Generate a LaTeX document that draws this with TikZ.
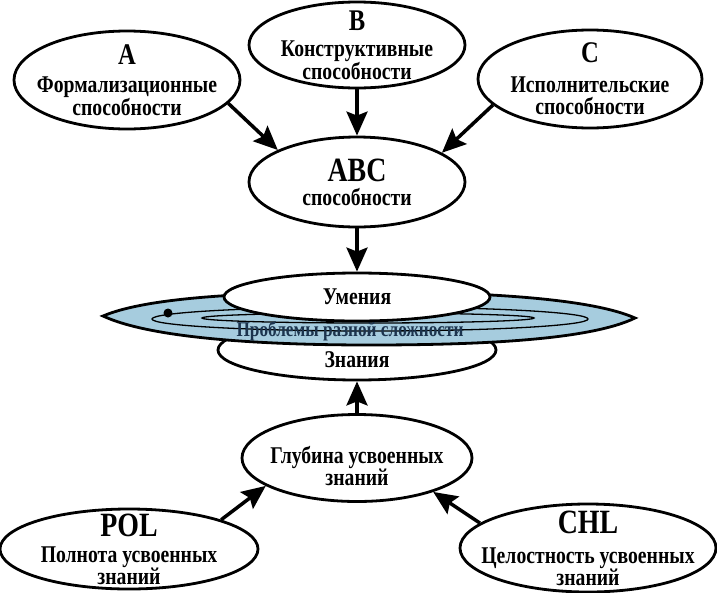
\documentclass[tikz,border=0pt]{standalone}
\usepackage{fontspec}
\setmainfont{Liberation Serif}[FakeStretch=0.82]
\usetikzlibrary{shapes.geometric,arrows.meta}
\definecolor{diskblue}{RGB}{166,204,222}
\definecolor{probtext}{RGB}{28,52,78}
\newcommand{\lettr}{\fontsize{30}{30}\selectfont}
\newcommand{\lettrbig}{\fontsize{34}{34}\selectfont}

\begin{document}
\begin{tikzpicture}[x=1pt,y=-1pt,
  font=\bfseries\fontsize{24}{22}\selectfont,
  oval/.style={ellipse,draw,line width=2.8pt,fill=white,inner sep=-40pt,align=center},
  arr/.style={line width=3.5pt,-{Stealth[length=24pt,width=21pt,inset=4pt]}}]
\useasboundingbox (0,0) rectangle (717,592);

\node (A) at (127,80) [oval,minimum width=226pt,minimum height=98pt] {{\lettr A}\\[6pt]Формализационные\\способности};
\node (B) at (357,45) [oval,minimum width=216pt,minimum height=86pt] {{\lettr B}\\[4pt]Конструктивные\\способности};
\node (C) at (590,79) [oval,minimum width=224pt,minimum height=98pt] {{\lettr C}\\[8pt]Исполнительские\\способности};
\node (ABC) at (357,182) [oval,minimum width=216pt,minimum height=90pt] {{\lettrbig ABC}\\[2pt]способности};

\node (Znania) at (357,350) [oval,minimum width=278pt,minimum height=60pt] {};
\draw[line width=2.8pt,fill=diskblue] (103,316) .. controls (150,296) and (260,292) .. (369,292)
  .. controls (480,292) and (590,298) .. (635,318)
  .. controls (590,340) and (480,345) .. (369,345)
  .. controls (260,345) and (150,338) .. (103,316) -- cycle;
\draw[line width=1.3pt] (370,319) ellipse [x radius=218, y radius=12];
\draw[line width=1.3pt] (368,318) ellipse [x radius=166, y radius=5];
\fill (168,313) circle [radius=4.5];
\node (Probl) at (350,331) [text=probtext,font=\bfseries\fontsize{21}{22}\selectfont] {Проблемы разной сложности};
\node (Umenia) at (357,297) [oval,minimum width=266pt,minimum height=48pt] {Умения};
\node (Zntext) at (357,360) {Знания};

\node (Glubina) at (357,458) [oval,minimum width=230pt,minimum height=87pt] {};
\node (Gltext) at (357,466) [align=center] {Глубина усвоенных\\знаний};
\node (POL) at (129,549) [oval,minimum width=258pt,minimum height=80pt] {{\lettrbig POL}\\[4pt]Полнота усвоенных\\знаний};
\node (CHL) at (588,548) [oval,minimum width=256pt,minimum height=88pt] {{\lettrbig CHL}\\[8pt]Целостность усвоенных\\знаний};

\draw[arr] (A.-13) -- (ABC.158);
\draw[arr] (B) -- (ABC);
\draw[arr] (C.195) -- (ABC.19);
\draw[arr] (ABC) -- (Umenia);
\draw[arr] (Glubina) -- (Znania);
\draw[arr] (POL.north east) -- (Glubina.197);
\draw[arr] (CHL.167) -- (Glubina.-24);
\end{tikzpicture}
\end{document}
